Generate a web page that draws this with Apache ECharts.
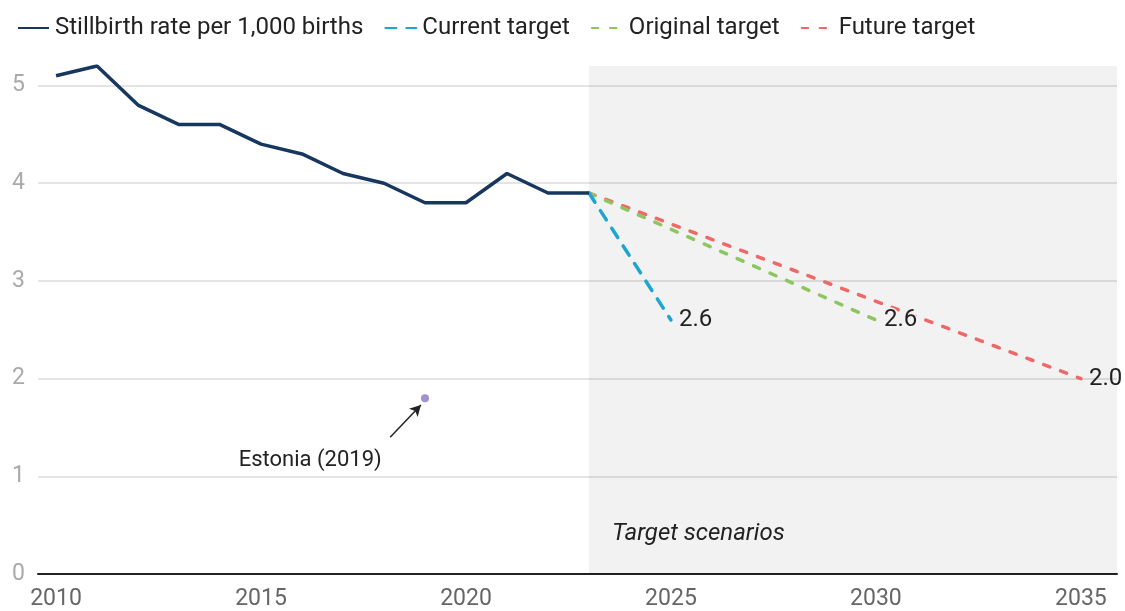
<!DOCTYPE html>
<html><head><meta charset="utf-8">
<script src="https://cdn.jsdelivr.net/npm/echarts@6/dist/echarts.min.js"></script>
<style>html,body{margin:0;padding:0;background:#fff}#c{width:1125px;height:611px}</style>
</head><body><div id="c"></div>
<script>
const years = [2010,2011,2012,2013,2014,2015,2016,2017,2018,2019,2020,2021,2022,2023];
const stillbirthRate = [5.1,5.2,4.8,4.6,4.6,4.4,4.3,4.1,4.0,3.8,3.8,4.1,3.9,3.9];
const currentTarget = [[2023,3.9],[2025,2.6]];
const originalTarget = [[2023,3.9],[2030,2.6]];
const futureTarget = [[2023,3.9],[2035,2.0]];
const estonia = [[2019,1.8]];
const seriesNames = ['Stillbirth rate per 1,000 births','Current target','Original target','Future target'];
const colors = ['#17375e','#1ea6d2','#8dc561','#ef6868'];

const chart = echarts.init(document.getElementById('c'));
const font = 'Roboto';
const endLbl = (halo) => ({
  show: true, distance: 8, fontFamily: font, fontSize: 24, color: '#222',
  textBorderColor: halo ? '#f2f2f2' : 'transparent', textBorderWidth: halo ? 3 : 0,
  formatter: p => p.value[1].toFixed(1)
});
chart.setOption({
  animation: false,
  textStyle: {fontFamily: font},
  legend: {
    top: 11, left: 12, itemWidth: 31, itemHeight: 14, itemGap: 21,
    itemStyle: {opacity: 0},
    textStyle: {fontFamily: font, fontSize: 24, color: '#222', padding: [0, 0, 0, 1]},
    data: seriesNames
  },
  grid: {left: 38, right: 8, top: 66, bottom: 37},
  xAxis: {
    type: 'value', min: 2009.56, max: 2035.88,
    axisLine: {show: true, lineStyle: {color: '#222', width: 2}},
    axisTick: {show: false},
    splitLine: {show: false},
    axisLabel: {
      fontFamily: font, fontSize: 23, color: '#666', margin: 14,
      showMinLabel: false, showMaxLabel: false,
      formatter: v => (v % 5 === 0 ? String(v) : '')
    }
  },
  yAxis: {
    type: 'value', min: 0, max: 5.2, interval: 1,
    axisLine: {show: false}, axisTick: {show: false},
    splitLine: {show: true, showMaxLine: false, lineStyle: {color: '#e4e4e4', width: 2}},
    axisLabel: {fontFamily: font, fontSize: 23, color: '#aaa', margin: 13, showMaxLabel: false,
      formatter: v => (Number.isInteger(v) ? String(v) : '')}
  },
  series: [
    {
      name: seriesNames[0], type: 'line', symbol: 'none', z: 5,
      data: years.map((y, i) => [y, stillbirthRate[i]]),
      lineStyle: {color: colors[0], width: 3.5}, itemStyle: {color: colors[0]},
      markArea: {
        silent: true,
        itemStyle: {color: 'rgba(0,0,0,0.052)'},
        label: {show: true, position: [23, 456], align: 'left', verticalAlign: 'top',
          fontFamily: font, fontSize: 24, fontStyle: 'italic', color: '#222'},
        data: [[{name: 'Target scenarios', xAxis: 2023, yAxis: 0}, {xAxis: 2035.88, yAxis: 5.2}]]
      }
    },
    {
      name: seriesNames[1], type: 'line', symbol: 'none', z: 4, data: currentTarget,
      lineStyle: {color: colors[1], width: 3.5, type: [11, 10], cap: 'round'}, itemStyle: {color: colors[1]},
      endLabel: endLbl(false)
    },
    {
      name: seriesNames[2], type: 'line', symbol: 'none', z: 3, data: originalTarget,
      lineStyle: {color: colors[2], width: 3.5, type: [6.5, 11.5], cap: 'round'}, itemStyle: {color: colors[2]},
      endLabel: endLbl(true)
    },
    {
      name: seriesNames[3], type: 'line', symbol: 'none', z: 2, data: futureTarget,
      lineStyle: {color: colors[3], width: 3.5, type: [6.5, 11.5], cap: 'round'}, itemStyle: {color: colors[3]},
      endLabel: endLbl(false)
    },
    {
      name: 'Estonia (2019)', type: 'scatter', data: estonia, symbolSize: 8, z: 6,
      itemStyle: {color: '#8877c4'},
      markLine: {
        silent: true, symbol: ['none', 'arrow'], symbolSize: [9, 11],
        lineStyle: {color: '#222', width: 1.5, type: 'solid'},
        label: {show: false},
        data: [[{coord: [2018.15, 1.40]}, {coord: [2018.90, 1.73]}]]
      },
      markPoint: {
        silent: true, symbol: 'circle', symbolSize: 0,
        label: {show: true, position: 'inside', formatter: 'Estonia (2019)', fontFamily: font, fontSize: 22, color: '#222'},
        data: [{coord: [2016.2, 1.166]}]
      }
    }
  ]
});
</script></body></html>
